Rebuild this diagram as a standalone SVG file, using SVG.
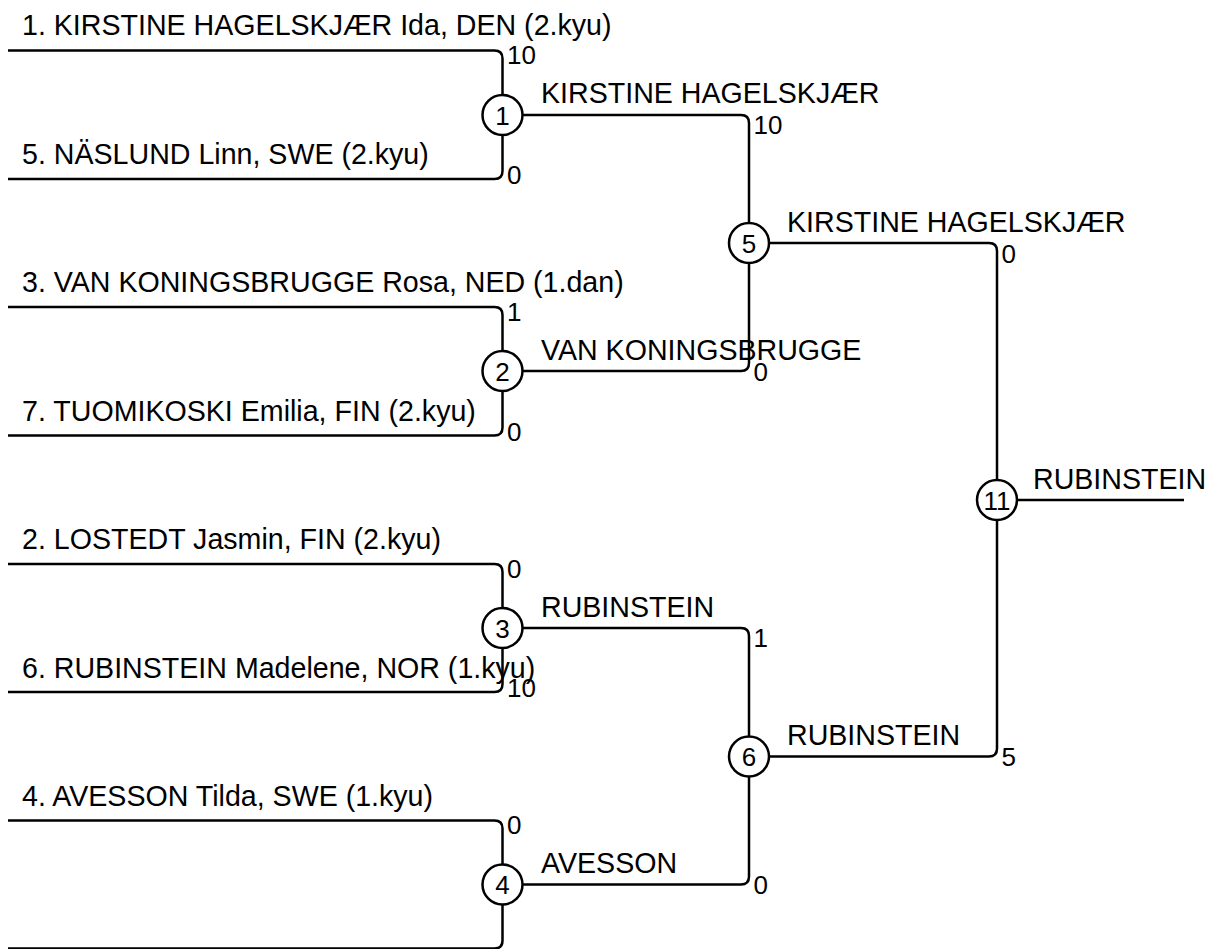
<svg xmlns="http://www.w3.org/2000/svg" width="1206" height="949" viewBox="0 0 1206 949">
<style>
.bg{fill:#fff}
.ln{fill:none;stroke:#000;stroke-width:2.5;stroke-linejoin:round}
.nd{fill:#fff;stroke:#000;stroke-width:2.5}
.num{font-family:"Liberation Sans",Arial,sans-serif;font-size:26px;fill:#000;text-anchor:middle}
.lbl{font-family:"Liberation Sans",Arial,sans-serif;font-size:28.6px;fill:#000}
.sc{font-family:"Liberation Sans",Arial,sans-serif;font-size:26px;fill:#000}
</style>
<rect class="bg" x="0" y="0" width="1206" height="949"/>
<g id="connectors" class="ln">
<path d="M8,50.5 H494.5 Q502.5,50.5 502.5,58.5 V95"/>
<path d="M502.5,135 V171 Q502.5,179 494.5,179 H8"/>
<path d="M8,307 H494.5 Q502.5,307 502.5,315 V351"/>
<path d="M502.5,391 V427.5 Q502.5,435.5 494.5,435.5 H8"/>
<path d="M8,564 H494.5 Q502.5,564 502.5,572 V608"/>
<path d="M502.5,648 V684 Q502.5,692 494.5,692 H8"/>
<path d="M8,820.5 H494.5 Q502.5,820.5 502.5,828.5 V864.5"/>
<path d="M502.5,904.5 V940.5 Q502.5,948.5 494.5,948.5 H8"/>
<path d="M522.5,115 H741 Q749,115 749,123 V223"/>
<path d="M522.5,371 H741 Q749,371 749,363 V263"/>
<path d="M522.5,628 H741 Q749,628 749,636 V736.5"/>
<path d="M522.5,884.5 H741 Q749,884.5 749,876.5 V776.5"/>
<path d="M769,243 H989 Q997,243 997,251 V480"/>
<path d="M769,756.5 H989 Q997,756.5 997,748.5 V520"/>
<path d="M1017,500 H1184"/>
</g>
<g id="players">
<text class="lbl" x="22" y="35">1. KIRSTINE HAGELSKJÆR Ida, DEN (2.kyu)</text>
<text class="lbl" x="22" y="164">5. NÄSLUND Linn, SWE (2.kyu)</text>
<text class="lbl" x="22" y="292">3. VAN KONINGSBRUGGE Rosa, NED (1.dan)</text>
<text class="lbl" x="22" y="421">7. TUOMIKOSKI Emilia, FIN (2.kyu)</text>
<text class="lbl" x="22" y="549">2. LOSTEDT Jasmin, FIN (2.kyu)</text>
<text class="lbl" x="22" y="678">6. RUBINSTEIN Madelene, NOR (1.kyu)</text>
<text class="lbl" x="22" y="806">4. AVESSON Tilda, SWE (1.kyu)</text>
</g>
<g id="winners">
<text class="lbl" x="541" y="103">KIRSTINE HAGELSKJÆR</text>
<text class="lbl" x="541" y="360">VAN KONINGSBRUGGE</text>
<text class="lbl" x="541" y="617">RUBINSTEIN</text>
<text class="lbl" x="541" y="873">AVESSON</text>
<text class="lbl" x="787" y="232">KIRSTINE HAGELSKJÆR</text>
<text class="lbl" x="787" y="745">RUBINSTEIN</text>
<text class="lbl" x="1033" y="489">RUBINSTEIN</text>
</g>
<g id="scores">
<text class="sc" x="507" y="64">10</text>
<text class="sc" x="507" y="184">0</text>
<text class="sc" x="507" y="321">1</text>
<text class="sc" x="507" y="441">0</text>
<text class="sc" x="507" y="578">0</text>
<text class="sc" x="507" y="697">10</text>
<text class="sc" x="507" y="834">0</text>
<text class="sc" x="753.5" y="134">10</text>
<text class="sc" x="753.5" y="381">0</text>
<text class="sc" x="753.5" y="647">1</text>
<text class="sc" x="753.5" y="894">0</text>
<text class="sc" x="1001.5" y="263">0</text>
<text class="sc" x="1001.5" y="766">5</text>
</g>
<g id="m1"><circle class="nd" cx="502.5" cy="115" r="20"/><text class="num" x="502.5" y="124.5">1</text></g>
<g id="m2"><circle class="nd" cx="502.5" cy="371" r="20"/><text class="num" x="502.5" y="380.5">2</text></g>
<g id="m3"><circle class="nd" cx="502.5" cy="628" r="20"/><text class="num" x="502.5" y="637.5">3</text></g>
<g id="m4"><circle class="nd" cx="502.5" cy="884.5" r="20"/><text class="num" x="502.5" y="894">4</text></g>
<g id="m5"><circle class="nd" cx="749" cy="243" r="20"/><text class="num" x="749" y="252.5">5</text></g>
<g id="m6"><circle class="nd" cx="749" cy="756.5" r="20"/><text class="num" x="749" y="766">6</text></g>
<g id="m11"><circle class="nd" cx="997" cy="500" r="20"/><text class="num" x="997" y="509.5">11</text></g>
</svg>
